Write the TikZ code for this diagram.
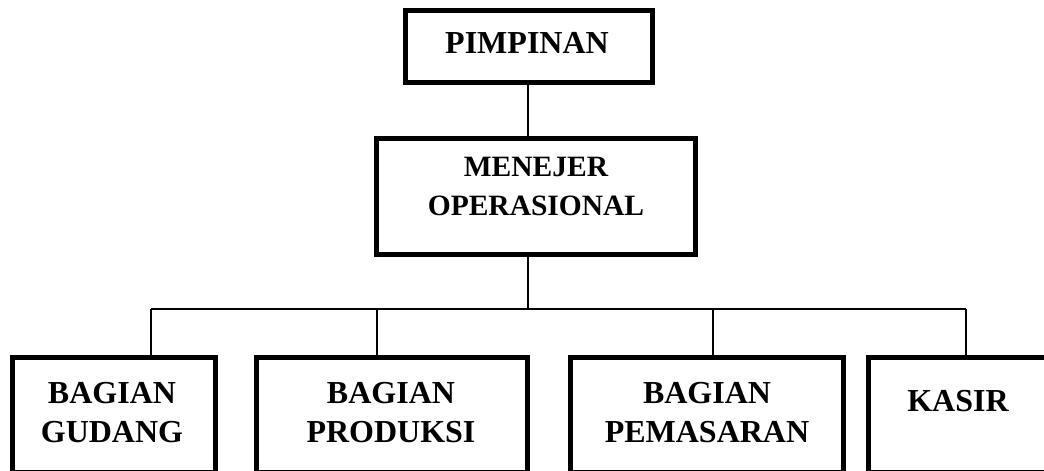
\documentclass[tikz,border=0pt]{standalone}
\usepackage{fontspec}
\setmainfont{Liberation Serif}
\tikzset{
	kotak/.style 2 args={draw,line width=5pt,minimum width=#1,minimum height=#2,inner sep=0pt,outer sep=0pt},
	teks/.style={anchor=north,inner sep=0pt,align=center,font=\bfseries\fontsize{#1}{39}\selectfont},
	teks/.default=32,
	garis/.style={line width=2pt}
}

\begin{document}
\begin{tikzpicture}[x=1pt,y=-1pt]
	\useasboundingbox (0,0) rectangle (1044,471);
	\clip (0,0) rectangle (1044,471);

	\node [kotak={247pt}{72.5pt}] (pim) at (528.5,46.25) {};
	\node [kotak={319pt}{115.5pt}] (mgr) at (535.5,196.25) {};
	\node [kotak={203pt}{115pt}] (gud) at (114,414.5) {};
	\node [kotak={271.5pt}{115pt}] (prod) at (391.75,414.5) {};
	\node [kotak={272.5pt}{115pt}] (pem) at (706.75,414.5) {};
	\node [kotak={179.5pt}{115pt}] (kas) at (958.25,414.5) {};

	\node [teks] (tpim) at (527,32) {PIMPINAN};
	\node [teks=29.5] (tmgr) at (536,157) {MENEJER\\OPERASIONAL};
	\node [teks] (tgud) at (112,382) {BAGIAN\\GUDANG};
	\node [teks] (tprod) at (391,382) {BAGIAN\\PRODUKSI};
	\node [teks] (tpem) at (707,382) {BAGIAN\\PEMASARAN};
	\node [teks] (tkas) at (958,390) {KASIR};

	\coordinate (cabang) at (528,309);
	\coordinate (c1) at (151,309);
	\coordinate (c2) at (377,309);
	\coordinate (c3) at (713,309);
	\coordinate (c4) at (966,309);

	\draw [garis] (pim.south -| cabang) -- (mgr.north -| cabang);
	\draw [garis] (mgr.south -| cabang) -- (cabang);
	\draw [garis] (c1) -- (c4);
	\draw [garis] (c1) -- (c1 |- gud.north);
	\draw [garis] (c2) -- (c2 |- prod.north);
	\draw [garis] (c3) -- (c3 |- pem.north);
	\draw [garis] (c4) -- (c4 |- kas.north);
\end{tikzpicture}
\end{document}
